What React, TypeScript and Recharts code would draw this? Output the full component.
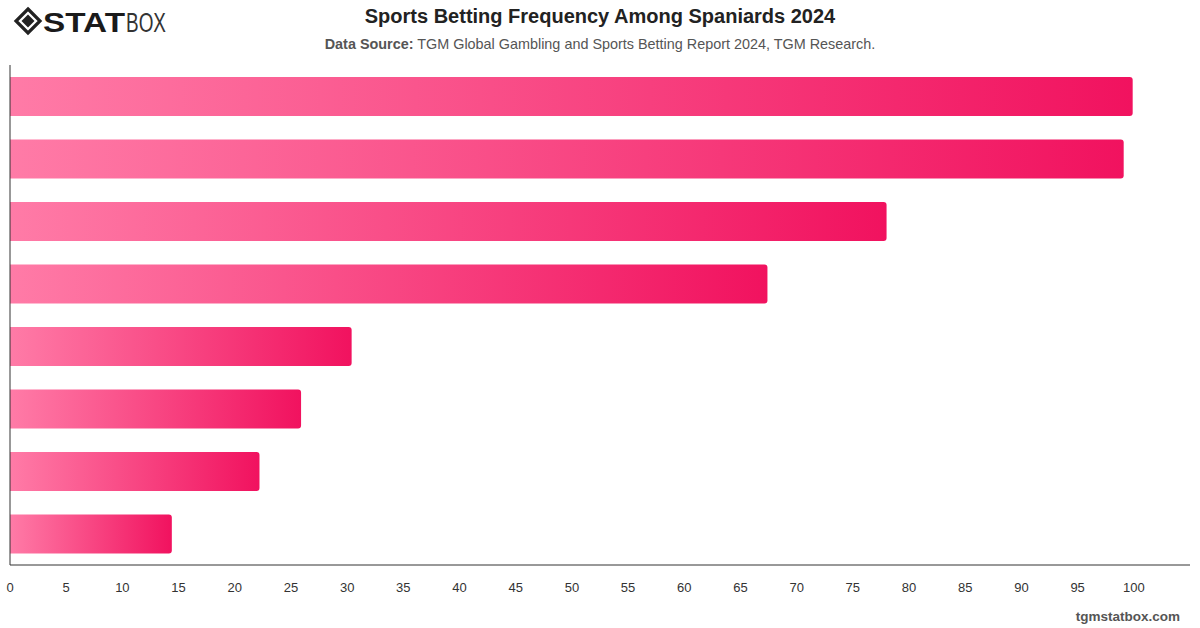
import React from 'react'
import { BarChart, Bar, XAxis, YAxis } from 'recharts'

// rows top to bottom
const categories = ['A', 'B', 'C', 'D', 'E', 'F', 'G', 'H']
const values = [99.9, 99.1, 78, 67.4, 30.4, 25.9, 22.2, 14.4]
const xTicks = [0, 5, 10, 15, 20, 25, 30, 35, 40, 45, 50, 55, 60, 65, 70, 75, 80, 85, 90, 95, 100]

const data = categories.map((name, i) => ({ name, value: values[i] }))

const font = '"Liberation Sans", Arial, sans-serif'

function Logo() {
  return (
    <svg width={180} height={40} style={{ position: 'absolute', left: 12, top: 4 }}>
      <g transform="translate(16,17)">
        <polygon points="0,-12 12,0 0,12 -12,0" fill="none" stroke="#222" strokeWidth={3.2} />
        <polygon points="0,-6.5 6.5,0 0,6.5 -6.5,0" fill="#222" />
      </g>
      <text x={31} y={28} fontFamily={font} fontSize={28} fontWeight={900} fill="#1a1a1a" textLength={82} lengthAdjust="spacingAndGlyphs">
        STAT
      </text>
      <text x={114} y={28} fontFamily={font} fontSize={27} fontWeight={300} fill="#333" textLength={40} lengthAdjust="spacingAndGlyphs">
        BOX
      </text>
    </svg>
  )
}

export default function App() {
  return (
    <div style={{ position: 'absolute', left: 0, top: 0, width: 1200, height: 628, background: '#fff', fontFamily: font }}>
      <Logo />
      <div style={{ position: 'absolute', top: 5, left: 0, width: 1200, textAlign: 'center', fontSize: 20, fontWeight: 700, color: '#222' }}>
        Sports Betting Frequency Among Spaniards 2024
      </div>
      <div style={{ position: 'absolute', top: 36, left: 0, width: 1200, textAlign: 'center', fontSize: 14.4, color: '#555' }}>
        <b>Data Source:</b> TGM Global Gambling and Sports Betting Report 2024, TGM Research.
      </div>
      <div style={{ position: 'absolute', top: 0, left: 0 }}>
        <BarChart
          width={1200}
          height={628}
          data={data}
          layout="vertical"
          margin={{ top: 65, right: 10, bottom: 33, left: 9 }}
          barSize={39}
        >
          <defs>
            <linearGradient id="barGrad" x1="0" y1="0" x2="1" y2="0">
              <stop offset="0%" stopColor="#ff7ba7" />
              <stop offset="100%" stopColor="#f1125f" />
            </linearGradient>
          </defs>
          <XAxis
            type="number"
            domain={[0, 105]}
            ticks={xTicks}
            interval={0}
            tickLine={false}
            axisLine={{ stroke: '#333' }}
            tick={{ fontSize: 13, fill: '#333', fontFamily: font }}
            tickMargin={12}
            height={30}
          />
          <YAxis type="category" dataKey="name" width={1} tick={false} tickLine={false} axisLine={{ stroke: '#333' }} />
          <Bar dataKey="value" fill="url(#barGrad)" radius={[0, 3, 3, 0]} isAnimationActive={false} />
        </BarChart>
      </div>
      <div style={{ position: 'absolute', right: 20, top: 609, fontSize: 13.5, fontWeight: 700, color: '#555' }}>
        tgmstatbox.com
      </div>
    </div>
  )
}
